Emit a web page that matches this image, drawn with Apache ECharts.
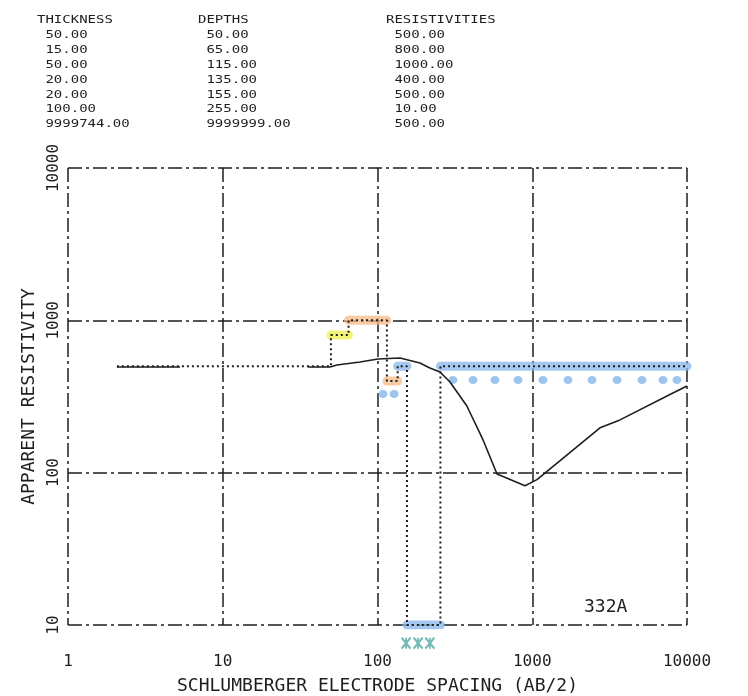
<!DOCTYPE html>
<html>
<head>
<meta charset="utf-8">
<script src="https://cdn.jsdelivr.net/npm/echarts@6/dist/echarts.min.js"></script>
<style>
  html, body { margin: 0; padding: 0; background: #fff; }
  #main { width: 748px; height: 696px; }
</style>
</head>
<body>
<div id="main"></div>
<script>
// layered model (printed table)
const thickness = ['50.00', '15.00', '50.00', '20.00', '20.00', '100.00', '9999744.00'];
const depths = [50, 65, 115, 135, 155, 255, 9999999];
const resistivities = [500, 800, 1000, 400, 500, 10, 500];

// calculated sounding curve, null = part not drawn
const curveAB = [2.07, 5.3, null, 35.6, 49.3, 54.7, 77.1, 100.7, 139.8, 188, 218, 253.5, 294, 378, 481, 592, 898, 1073, 2740, 3690, 8110, 10000];
const curveRho = [494, 494, null, 494, 494, 509, 533, 558, 566, 525, 486, 458, 394, 274, 164, 98, 82, 90, 197, 222, 333, 371];

// hand marked field points (blue)
const fieldAB = [108.5, 128, 307, 414, 574, 809, 1173, 1702, 2432, 3531, 5119, 6996, 8616];
const fieldRho = [329, 329, 406, 406, 406, 406, 406, 406, 406, 406, 406, 406, 406];

// crosses under the axis
const crossAB = [153, 183, 218];
const crossRho = [7.6, 7.6, 7.6];

// highlighter marks, by layer index
const yellowLayers = [1];
const orangeLayers = [2, 3];
const blueLayers = [4, 5, 6];

const xTicks = [1, 10, 100, 1000, 10000];
const yTicks = [10, 100, 1000, 10000];
const plotId = '332A';

const xMin = 1, xMax = 10000;
const font = '"DejaVu Sans Mono", monospace';
const ink = '#1e1e1e';

// step line of the model
const stepData = [[curveAB[0], resistivities[0]]];
for (let i = 0; i < depths.length; i++) {
  const d = Math.min(depths[i], xMax);
  stepData.push([d, resistivities[i]]);
  if (i + 1 < resistivities.length) stepData.push([d, resistivities[i + 1]]);
}

function layerSeries(layers, color) {
  return layers.map(i => ({
    type: 'line',
    silent: true,
    symbol: 'none',
    z: 1,
    lineStyle: { color: color, width: 9, opacity: 0.75, cap: 'round' },
    data: [[depths[i - 1], resistivities[i]], [Math.min(depths[i], xMax), resistivities[i]]]
  }));
}

const gridLine = { show: true, lineStyle: { color: ink, width: 1.5, type: [14, 4, 3, 4] } };

const chart = echarts.init(document.getElementById('main'));

const col1 = ['THICKNESS'].concat(thickness.map(t => ' ' + t)).join('\n');
const col2 = ['DEPTHS'].concat(depths.map(d => ' ' + d.toFixed(2))).join('\n');
const col3 = ['RESISTIVITIES'].concat(resistivities.map(r => ' ' + r.toFixed(2))).join('\n');

function tableText(x, text) {
  return {
    type: 'text', x: x, y: 13, scaleX: 1.4,
    style: { text: text, fontSize: 10, fontFamily: font, fill: ink, lineHeight: 14.9 }
  };
}

chart.setOption({
  animation: false,
  grid: { left: 68, right: 61, top: 168, bottom: 71, outerBoundsMode: 'none' },
  xAxis: {
    type: 'log', logBase: 10, min: xMin, max: xMax,
    name: 'SCHLUMBERGER ELECTRODE SPACING (AB/2)',
    nameLocation: 'middle', nameGap: 52,
    nameTextStyle: { fontFamily: font, fontSize: 18, color: ink },
    axisLine: { show: false },
    axisTick: { show: false },
    axisLabel: {
      margin: 29, fontFamily: font, fontSize: 16, color: ink,
      formatter: v => xTicks.includes(Math.round(v)) ? String(Math.round(v)) : ''
    },
    splitLine: gridLine
  },
  yAxis: {
    type: 'log', logBase: 10, min: 10, max: 10000,
    name: 'APPARENT RESISTIVITY',
    nameLocation: 'middle', nameGap: 15, nameRotate: 90,
    nameTextStyle: { fontFamily: font, fontSize: 18, color: ink },
    axisLine: { show: false },
    axisTick: { show: false },
    axisLabel: {
      rotate: 90, margin: 6, fontFamily: font, fontSize: 16, color: ink,
      formatter: v => yTicks.includes(Math.round(v)) ? String(Math.round(v)) : ''
    },
    splitLine: gridLine
  },
  graphic: [
    tableText(37, col1),
    tableText(198, col2),
    tableText(386, col3),
    {
      type: 'text', x: 584, y: 598,
      style: { text: plotId, fontSize: 18, fontFamily: font, fill: ink }
    }
  ],
  series: [
    ...layerSeries(yellowLayers, '#eef04a'),
    ...layerSeries(orangeLayers, '#f6b985'),
    ...layerSeries(blueLayers, '#86b6ea'),
    {
      type: 'line', symbol: 'none', z: 3, silent: true,
      lineStyle: { color: ink, width: 2, type: [2, 3] },
      data: stepData
    },
    {
      type: 'line', symbol: 'none', z: 4, silent: true, connectNulls: false,
      lineStyle: { color: ink, width: 1.6 },
      data: curveAB.map((x, i) => x === null ? ['-', '-'] : [x, curveRho[i]])
    },
    {
      type: 'scatter', z: 2, silent: true,
      symbol: 'circle', symbolSize: [9, 8],
      itemStyle: { color: '#86b6ea', opacity: 0.8 },
      data: fieldAB.map((x, i) => [x, fieldRho[i]])
    },
    {
      type: 'scatter', z: 2, silent: true, clip: false,
      symbol: 'path://M0,0L10,12M10,0L0,12M5,0L5,12', symbolSize: [9, 11],
      itemStyle: { color: 'rgba(0,0,0,0)', borderColor: '#4fa9a6', borderWidth: 2 },
      data: crossAB.map((x, i) => [x, crossRho[i]])
    }
  ]
});
</script>
</body>
</html>
